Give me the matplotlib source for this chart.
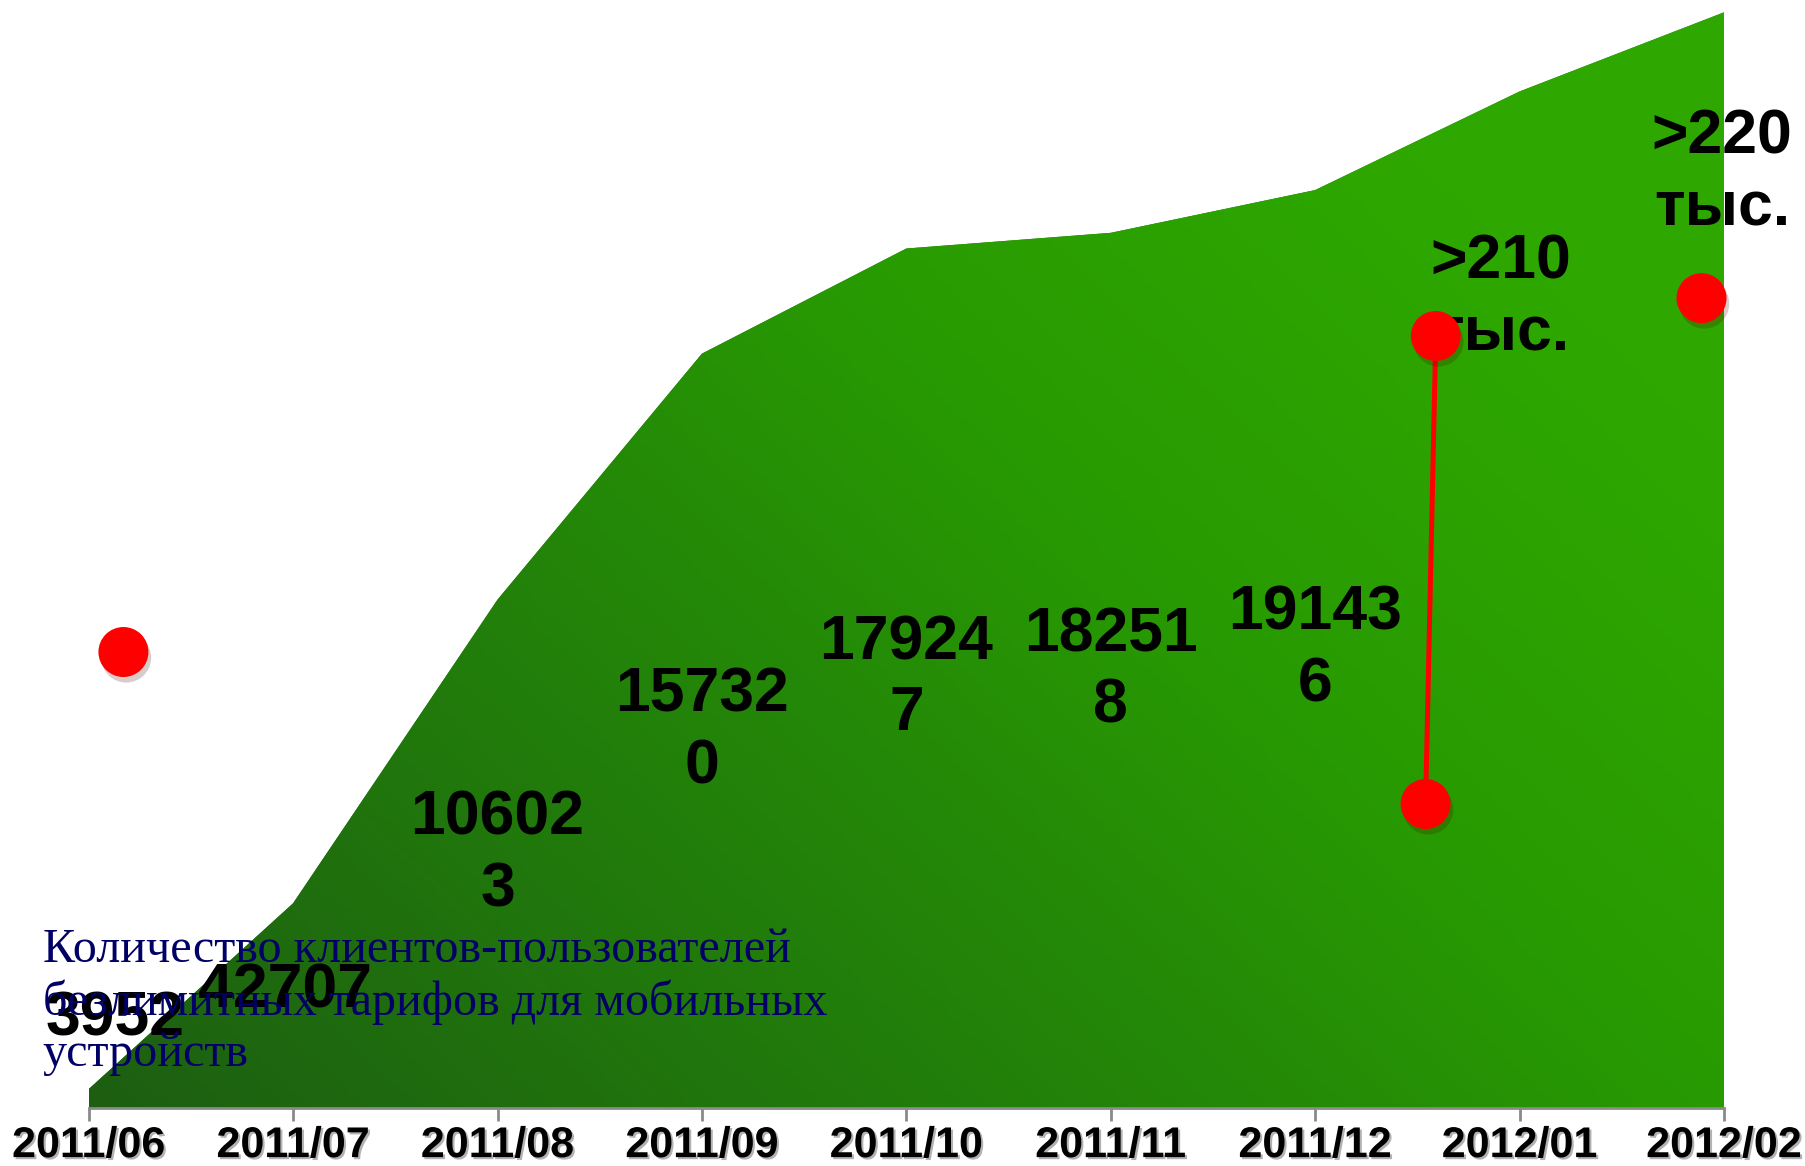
import numpy as np
import matplotlib
matplotlib.use("Agg")
import matplotlib.pyplot as plt
import matplotlib.patheffects as pe
from matplotlib.colors import LinearSegmentedColormap

# data
months = ["2011/06", "2011/07", "2011/08", "2011/09", "2011/10",
          "2011/11", "2011/12", "2012/01", "2012/02"]
clients = [3952, 42707, 106023, 157320, 179247, 182518, 191436, 212000, 228500]
value_labels = ["3952", "42707", "10602\n3", "15732\n0", "17924\n7",
                "18251\n8", "19143\n6"]
note_labels = [">210\nтыс.", ">220\nтыс."]
note_x = [6.91, 7.99]
note_y = [168900, 195000]
dot_x = [0.17, 6.59, 6.54, 7.89]
dot_y = [95100, 161000, 63400, 168900]
caption = "Количество клиентов-пользователей\nбезлимитных тарифов для мобильных\nустройств"

fig = plt.figure(figsize=(18.06, 11.66), dpi=100)
ax = fig.add_axes([0.0491, 0.0497, 0.9055, 0.9459])

x = np.arange(len(months))
poly = ax.fill_between(x, 0, clients, color="#24820a", lw=0, zorder=1,
                       path_effects=[pe.SimplePatchShadow(offset=(2, -2), alpha=0.3),
                                     pe.Normal()])

# gradient fill, dark at bottom left, bright at top right
cmap = LinearSegmentedColormap.from_list(
    "g", [(0, "#1d5e12"), (0.4, "#22800a"), (0.7, "#289a02"), (1, "#2ea800")])
gx, gy = np.meshgrid(np.linspace(0, 1, 400), np.linspace(0, 1, 300))
t = np.clip(0.7 * gx + 0.5 * gy, 0, 1)
img = ax.imshow(t, extent=[0, 8, 0, 230000], origin="lower", aspect="auto",
                cmap=cmap, vmin=0, vmax=1, zorder=2)
img.set_clip_path(poly.get_paths()[0], ax.transData)

ax.set_xlim(0, 8)
ax.set_ylim(0, 230000)
for s in ["top", "left", "right"]:
    ax.spines[s].set_visible(False)
ax.spines["bottom"].set_color("#8a8a8a")
ax.spines["bottom"].set_linewidth(2)
ax.spines["bottom"].set_zorder(3)
ax.set_yticks([])
ax.set_xticks(x)
ax.set_xticklabels(months, fontfamily="Liberation Sans", fontweight="bold", fontsize=31)
ax.tick_params(axis="x", length=9, width=2, color="#8a8a8a", pad=4)
for lab in ax.get_xticklabels():
    lab.set_path_effects([pe.withSimplePatchShadow(offset=(1.5, -1.5), alpha=0.3)])

# value labels
lab_font = dict(fontfamily="Liberation Sans", fontweight="bold", fontsize=45,
                ha="center", va="center", linespacing=1.27, zorder=5)
ax.text(0 + 0.13, clients[0] + 14600, value_labels[0], **lab_font)
ax.text(1 - 0.04, clients[1] / 2 + 3000, value_labels[1], **lab_font)
for i in range(2, len(value_labels)):
    ax.text(i, clients[i] / 2, value_labels[i], **lab_font)
for nx, ny, nl in zip(note_x, note_y, note_labels):
    ax.text(nx, ny, nl, clip_on=False, **lab_font)

# red markers
shadow = [pe.SimplePatchShadow(offset=(2, -4), alpha=0.2), pe.Normal()]
ax.plot(dot_x[1:3], dot_y[1:3], color="#ff0000", lw=3.6, zorder=6, clip_on=False)
ax.plot(dot_x, dot_y, "o", ms=36, color="#ff0000", mec="none", zorder=7,
        clip_on=False, path_effects=shadow)

fig.text(0.0236, 0.1407, caption, fontfamily="Liberation Serif", fontsize=34.7,
         color="#000066", va="center", ha="left", linespacing=1.2)

fig.savefig("out.png", dpi=100)
